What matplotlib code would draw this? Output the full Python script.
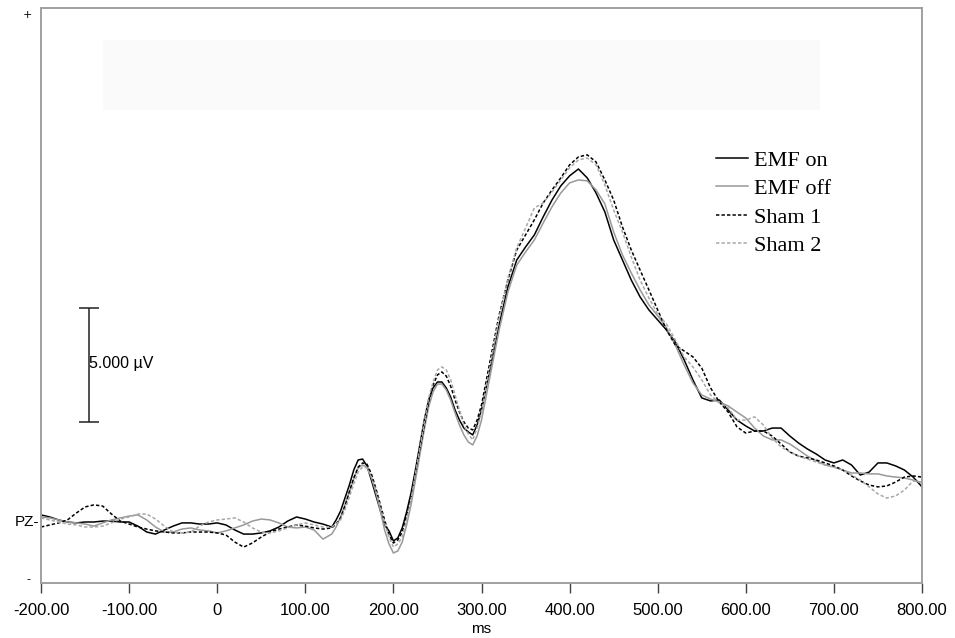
import matplotlib
matplotlib.use('Agg')
import matplotlib.pyplot as plt
from matplotlib.patches import Rectangle

# ── ERP waveforms at PZ (µV) ─────────────────────────────────────────────────
# 10 ms steps, except 5 ms steps from 130 to 300 ms where the peaks are sharp
t_ms = list(range(-200, 130, 10)) + list(range(130, 301, 5)) + list(range(310, 801, 10))

emf_on = [
    0.31, 0.22, 0.09, 0.00, -0.04, 0.00, 0.00, 0.04, 0.04, 0.00,
    0.00, -0.18, -0.44, -0.53, -0.35, -0.18, -0.04, -0.04, -0.09, -0.09,
    -0.04, -0.13, -0.35, -0.53, -0.53, -0.48, -0.39, -0.22, 0.04, 0.22,
    0.13, 0.00, -0.09,
    -0.22, 0.09, 0.48, 1.05, 1.62, 2.28, 2.72, 2.76, 2.46, 1.84,
    1.18, 0.53, -0.13, -0.39, -0.83, -0.70, -0.26, 0.44, 1.27, 2.28,
    3.38, 4.47, 5.35, 5.88, 6.14, 6.14, 5.88, 5.48, 4.91, 4.47,
    4.12, 3.95, 3.82, 4.25, 4.91,
    6.75, 8.64, 10.31, 11.49, 12.06, 12.59, 13.38, 14.12, 14.74, 15.18,
    15.48, 15.09, 14.43, 13.60, 12.37, 11.49, 10.61, 9.87, 9.30, 8.86,
    8.42, 7.89, 7.11, 6.23, 5.44, 5.31, 5.35, 4.91, 4.47, 4.21,
    3.99, 3.99, 4.12, 4.12, 3.77, 3.46, 3.20, 2.98, 2.72, 2.59,
    2.72, 2.50, 2.06, 2.19, 2.59, 2.59, 2.46, 2.28, 1.97, 1.54]

emf_off = [
    0.22, 0.18, 0.09, 0.00, -0.04, -0.09, -0.18, -0.04, 0.09, 0.18,
    0.26, 0.31, 0.09, -0.22, -0.44, -0.44, -0.31, -0.26, -0.35, -0.39,
    -0.48, -0.39, -0.26, -0.13, 0.04, 0.13, 0.09, -0.04, -0.22, -0.26,
    -0.22, -0.35, -0.75,
    -0.53, -0.22, 0.22, 0.75, 1.32, 1.89, 2.37, 2.50, 2.41, 1.97,
    1.32, 0.53, -0.35, -0.96, -1.36, -1.27, -0.88, -0.13, 0.75, 1.84,
    2.94, 4.04, 5.04, 5.70, 6.05, 6.05, 5.79, 5.35, 4.78, 4.25,
    3.82, 3.51, 3.38, 3.77, 4.47,
    6.45, 8.42, 10.09, 11.27, 11.84, 12.37, 13.11, 13.82, 14.43, 14.87,
    15.00, 14.96, 14.56, 13.95, 12.72, 11.71, 10.92, 10.18, 9.52, 9.04,
    8.51, 7.76, 6.89, 6.10, 5.57, 5.39, 5.26, 5.09, 4.82, 4.56,
    4.12, 3.77, 3.60, 3.60, 3.42, 3.16, 2.89, 2.68, 2.50, 2.41,
    2.28, 2.15, 2.15, 2.11, 2.11, 2.02, 1.97, 1.93, 1.84, 1.71]

sham_1 = [
    -0.22, -0.13, -0.04, 0.09, 0.39, 0.66, 0.75, 0.70, 0.35, 0.04,
    -0.09, -0.22, -0.31, -0.39, -0.44, -0.48, -0.48, -0.44, -0.44, -0.44,
    -0.48, -0.57, -0.88, -1.10, -0.92, -0.66, -0.44, -0.31, -0.22, -0.13,
    -0.18, -0.26, -0.31,
    -0.26, -0.09, 0.18, 0.70, 1.32, 1.93, 2.41, 2.59, 2.54, 2.11,
    1.49, 0.79, 0.09, -0.57, -0.92, -0.79, -0.44, 0.26, 1.10, 2.11,
    3.16, 4.25, 5.26, 6.01, 6.45, 6.58, 6.40, 5.96, 5.35, 4.82,
    4.39, 4.12, 4.04, 4.47, 5.13,
    7.11, 9.08, 10.61, 11.93, 12.59, 13.25, 13.99, 14.56, 15.09, 15.66,
    16.01, 16.10, 15.79, 15.00, 14.12, 12.94, 11.93, 11.05, 10.18, 9.30,
    8.42, 7.76, 7.50, 7.24, 6.75, 5.88, 5.26, 4.82, 4.17, 3.90,
    3.99, 3.99, 3.77, 3.42, 3.07, 2.89, 2.81, 2.72, 2.59, 2.46,
    2.28, 2.02, 1.80, 1.62, 1.54, 1.58, 1.75, 1.97, 2.02, 1.97]

sham_2 = [
    0.18, 0.09, 0.00, -0.09, -0.13, -0.22, -0.22, -0.18, -0.04, 0.13,
    0.22, 0.35, 0.35, 0.13, -0.18, -0.44, -0.48, -0.44, -0.18, 0.00,
    0.09, 0.13, 0.18, 0.00, -0.26, -0.44, -0.48, -0.39, -0.26, -0.13,
    -0.04, -0.13, -0.22,
    -0.22, -0.09, 0.09, 0.53, 1.10, 1.67, 2.19, 2.41, 2.37, 1.97,
    1.40, 0.70, -0.04, -0.66, -1.10, -0.96, -0.66, 0.09, 0.96, 2.11,
    3.25, 4.39, 5.44, 6.14, 6.67, 6.80, 6.67, 6.23, 5.57, 4.91,
    4.25, 3.86, 3.60, 4.12, 4.82,
    6.89, 8.95, 10.70, 12.02, 12.89, 13.77, 13.99, 14.47, 15.00, 15.53,
    15.88, 15.96, 15.66, 14.78, 13.68, 12.72, 11.62, 10.61, 9.82, 9.12,
    8.68, 7.98, 7.24, 6.80, 6.23, 5.57, 5.22, 5.00, 4.47, 4.47,
    4.61, 4.25, 3.68, 3.29, 3.07, 2.89, 2.76, 2.63, 2.50, 2.41,
    2.28, 2.06, 1.84, 1.54, 1.23, 1.05, 1.14, 1.40, 1.80, 1.75]

x_ticks = [-200, -100, 0, 100, 200, 300, 400, 500, 600, 700, 800]
x_labels = ["-200.00", "-100.00", "0", "100.00", "200.00", "300.00",
            "400.00", "500.00", "600.00", "700.00", "800.00"]

# ── Figure ───────────────────────────────────────────────────────────────────
fig = plt.figure(figsize=(9.55, 6.38), dpi=100)
ax = fig.add_axes([41/955, 55/638, 881/955, 575/638])

# faint box at the top (left over from the export)
fig.patches.append(Rectangle((103/955, 528/638), 717/955, 70/638,
                             transform=fig.transFigure, facecolor='#fafafa',
                             edgecolor='none', zorder=0))

ax.plot(t_ms, emf_on, color='black', lw=1.1, label='EMF on')
ax.plot(t_ms, emf_off, color='#999999', lw=1.1, label='EMF off')
ax.plot(t_ms, sham_1, color='black', lw=1.1, dashes=(2.2, 1.4), label='Sham 1')
ax.plot(t_ms, sham_2, color='#a8a8a8', lw=1.1, dashes=(2.2, 1.4), label='Sham 2')

ax.set_xlim(-200, 800)
ax.set_ylim(-2.675, 22.54)
ax.patch.set_alpha(0)

for sp in ax.spines.values():
    sp.set_color('#a0a0a0')
    sp.set_linewidth(1.4)

ax.set_xticks(x_ticks)
ax.set_xticklabels(x_labels, family='Liberation Sans', fontsize=12)
ax.tick_params(axis='x', direction='out', length=7.5, width=1.0,
               color='#404040', pad=7)
ax.set_yticks([])
ax.set_xlabel("ms", family='Liberation Sans', fontsize=11, labelpad=3)

# scale bar
ax.errorbar([-145.5], [6.89], yerr=[2.5], fmt='none', ecolor='#202020',
            elinewidth=1.1, capsize=7, capthick=1.1)
ax.text(-145.5, 6.93, "5.000 µV", family='Liberation Sans', fontsize=11.5,
        ha='left', va='center')

# channel label and polarity marks
ax.annotate("PZ-", xy=(0, 0), xycoords=('axes fraction', 'data'),
            xytext=(-1, 0), textcoords='offset points', ha='right', va='center',
            family='Liberation Sans', fontsize=11)
fig.text(27/955, 1 - 15/638, "+", ha='center', va='center', fontsize=8)
fig.text(28/955, 1 - 579/638, "-", ha='center', va='center', fontsize=8)

ax.legend(loc='upper left', bbox_to_anchor=(716/955, 1 - 150/638),
          bbox_transform=fig.transFigure, frameon=False,
          prop={'family': 'Liberation Serif', 'size': 16},
          handlelength=1.45, handletextpad=0.25, labelspacing=0.36,
          borderpad=0, borderaxespad=0)

fig.savefig("out.png", dpi=100)
